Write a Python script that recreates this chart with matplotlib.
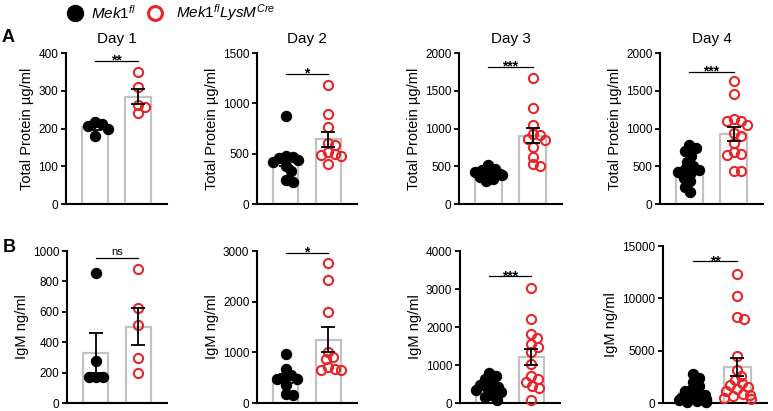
import numpy as np
import matplotlib.pyplot as plt
from matplotlib.lines import Line2D

plt.rcParams['font.family'] = ['Liberation Sans', 'DejaVu Sans']
plt.rcParams['mathtext.fontset'] = 'custom'
plt.rcParams['mathtext.it'] = 'Liberation Sans:italic'
plt.rcParams['mathtext.rm'] = 'Liberation Sans'

W, H = 773, 411

# ---- data ----
days = ['Day 1', 'Day 2', 'Day 3', 'Day 4']

prot_fl = [
    [212, 216, 200, 207, 180],
    [879, 480, 470, 455, 440, 420, 380, 330, 240, 220],
    [510, 470, 450, 430, 410, 400, 380, 360, 330, 300],
    [780, 740, 700, 640, 560, 500, 470, 450, 430, 400, 350, 300, 230, 165],
]
prot_cre = [
    [350, 311, 262, 242, 256],
    [1180, 895, 764, 610, 584, 520, 500, 490, 480, 400],
    [1665, 1271, 1052, 926, 912, 860, 847, 759, 628, 532, 497],
    [1629, 1453, 1123, 1101, 1101, 1044, 947, 903, 807, 684, 662, 648, 442, 442],
]
igm_fl = [
    [855, 279, 169, 169, 169],
    [960, 670, 560, 520, 480, 470, 350, 185, 150],
    [780, 700, 620, 540, 480, 420, 380, 330, 280, 220, 150, 80],
    [2750, 2400, 2000, 1600, 1300, 1100, 900, 750, 600, 500, 400, 300, 200, 150, 100, 50],
]
igm_cre = [
    [884, 624, 514, 294, 200],
    [2755, 2430, 1800, 1010, 900, 870, 720, 680, 650, 650],
    [3020, 2220, 1810, 1700, 1560, 1480, 1340, 1020, 700, 640, 560, 460, 400, 80],
    [12330, 10250, 8180, 8000, 4450, 3170, 2600, 2200, 1900, 1700, 1500, 1300, 1100,
     900, 800, 700, 500, 400],
]

prot_ymax = [400, 1500, 2000, 2000]
prot_ystep = [100, 500, 500, 500]
igm_ymax = [1000, 3000, 4000, 15000]
igm_ystep = [200, 1000, 1000, 5000]

prot_sig = ['**', '*', '***', '***']
prot_sig_y = [380, 1295, 1820, 1750]
igm_sig = ['ns', '*', '***', '**']
igm_sig_y = [955, 2965, 3330, 13560]

# panel boxes in pixels: left, right, top, bottom
prot_box = [(66, 167, 53, 204), (257, 357, 53, 204), (459, 562, 53, 204), (660, 763, 53, 204)]
igm_box = [(67, 167, 251, 403), (257, 357, 251, 403), (460, 560, 251, 403), (663, 767, 246, 403)]

GRAY = '#c2c2c2'
RED = '#e8262a'


def swarm_x(ax, xc, vals, d_px, max_off):
    # spread points sideways so they overlap less (GraphPad style)
    tr = ax.transData
    ypix = tr.transform(np.column_stack([np.full(len(vals), xc), vals]))[:, 1]
    px_per_unit = tr.transform((1, 0))[0] - tr.transform((0, 0))[0]
    lim = max_off * px_per_unit
    placed = []
    offs = np.zeros(len(vals))
    for i in np.argsort(vals)[::-1]:
        best = 0.0
        for step in range(0, 60):
            hit = None
            for s in (step, -step):
                if all((s - px) ** 2 + (ypix[i] - py) ** 2 >= d_px ** 2 for px, py in placed):
                    hit = s
                    break
            if hit is not None:
                best = hit
                break
        best = max(-lim, min(lim, best))
        placed.append((best, ypix[i]))
        offs[i] = best
    return xc + offs / px_per_unit


def panel(box, fl, cre, ymax, ystep, sig, sig_y, ylabel, title=None):
    l, r, t, b = box
    ax = fig.add_axes([l / W, 1 - b / H, (r - l) / W, (b - t) / H])
    ax.set_xlim(-0.67, 1.67)
    ax.set_ylim(0, ymax)
    ax.set_yticks(np.arange(0, ymax + 1, ystep))
    ax.set_xticks([])
    for s in ['top', 'right']:
        ax.spines[s].set_visible(False)
    for s in ['left', 'bottom']:
        ax.spines[s].set_linewidth(1.5)
    ax.tick_params(axis='y', length=3.5, width=1.3, labelsize=8.5, pad=2)
    ax.set_ylabel(ylabel, fontsize=10.5, labelpad=3)
    if title:
        ax.set_title(title, fontsize=11, pad=7)

    fl = np.array(fl, float)
    cre = np.array(cre, float)
    means = [fl.mean(), cre.mean()]
    sems = [fl.std(ddof=1) / np.sqrt(len(fl)), cre.std(ddof=1) / np.sqrt(len(cre))]
    ax.bar([0, 1], means, width=0.6, color='white', edgecolor=GRAY, linewidth=1.6, zorder=1)

    x0 = swarm_x(ax, 0, fl, 7.0, 0.3)
    x1 = swarm_x(ax, 1, cre, 7.0, 0.3)
    ax.plot(x0, fl, 'o', ms=7.2, color='black', zorder=2, clip_on=False)
    ax.plot(x1, cre, 'o', ms=6.6, mfc='none', mec=RED, mew=1.5, zorder=3, clip_on=False)
    ax.errorbar([0, 1], means, yerr=sems, fmt='none', ecolor='black', elinewidth=1.3,
                capsize=5, capthick=1.3, zorder=4)

    ax.plot([0, 1], [sig_y, sig_y], color='black', lw=0.9, clip_on=False)
    if sig == 'ns':
        ax.text(0.5, sig_y + ymax * 0.005, sig, ha='center', va='bottom', fontsize=8)
    else:
        ax.text(0.5, sig_y - ymax * 0.045, sig, ha='center', va='bottom', fontsize=10,
                fontweight='bold')
    return ax


fig = plt.figure(figsize=(W / 100, H / 100), dpi=100)

for i in range(4):
    panel(prot_box[i], prot_fl[i], prot_cre[i], prot_ymax[i], prot_ystep[i],
          prot_sig[i], prot_sig_y[i], 'Total Protein µg/ml', days[i])
    panel(igm_box[i], igm_fl[i], igm_cre[i], igm_ymax[i], igm_ystep[i],
          igm_sig[i], igm_sig_y[i], 'IgM ng/ml')

fig.text(8 / W, 1 - 37 / H, 'A', fontsize=13, fontweight='bold', ha='center', va='center')
fig.text(9 / W, 1 - 247 / H, 'B', fontsize=13, fontweight='bold', ha='center', va='center')

# legend
fig.add_artist(Line2D([75 / W], [1 - 13 / H], marker='o', ms=11.5, color='black',
                      transform=fig.transFigure))
fig.text(91 / W, 1 - 13 / H, r'$\mathit{Mek1}^{\mathit{fl}}$', fontsize=11, va='center')
fig.add_artist(Line2D([155 / W], [1 - 13 / H], marker='o', ms=10, mfc='none', mec=RED,
                      mew=2.2, transform=fig.transFigure))
fig.text(176 / W, 1 - 13 / H, r'$\mathit{Mek1}^{\mathit{fl}}\mathit{LysM}^{\mathit{Cre}}$',
         fontsize=11, va='center')

fig.savefig('out.png', dpi=100)
